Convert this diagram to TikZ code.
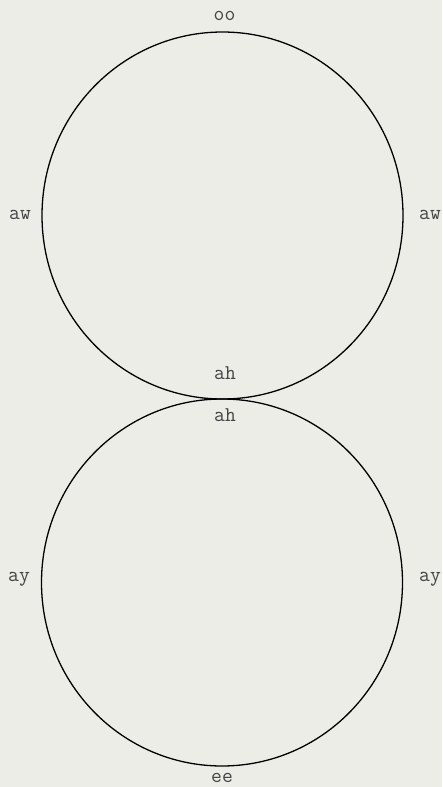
\documentclass[tikz,border=0pt]{standalone}
\usetikzlibrary{shapes.geometric}
\definecolor{paper}{HTML}{EDEDE7}
\definecolor{ink}{HTML}{444444}
\tikzset{
  ring/.style={draw=black, line width=1.3pt, ellipse, inner sep=0pt, minimum width=361pt, minimum height=367pt},
  vowel/.style={text=ink, font=\ttfamily\fontsize{21}{21}\selectfont, inner sep=0pt, anchor=center}
}
\begin{document}
\begin{tikzpicture}[x=1pt,y=-1pt]
\fill[paper] (0,0) rectangle (442,787);
\useasboundingbox (0,0) rectangle (442,787);
\node[ring] (top) at (222.5,215.5) {};
\node[ring] (bot) at (222,582.5) {};
\node[vowel] (oo) at (224.5,16) {oo};
\node[vowel] (awl) at (20,215) {aw};
\node[vowel] (awr) at (430,215) {aw};
\node[vowel] (aht) at (225,373) {ah};
\node[vowel] (ahb) at (225,415) {ah};
\node[vowel] (ayl) at (19,579) {ay};
\node[vowel] (ayr) at (430,579) {ay};
\node[vowel] (ee) at (222,778) {ee};
\end{tikzpicture}
\end{document}
